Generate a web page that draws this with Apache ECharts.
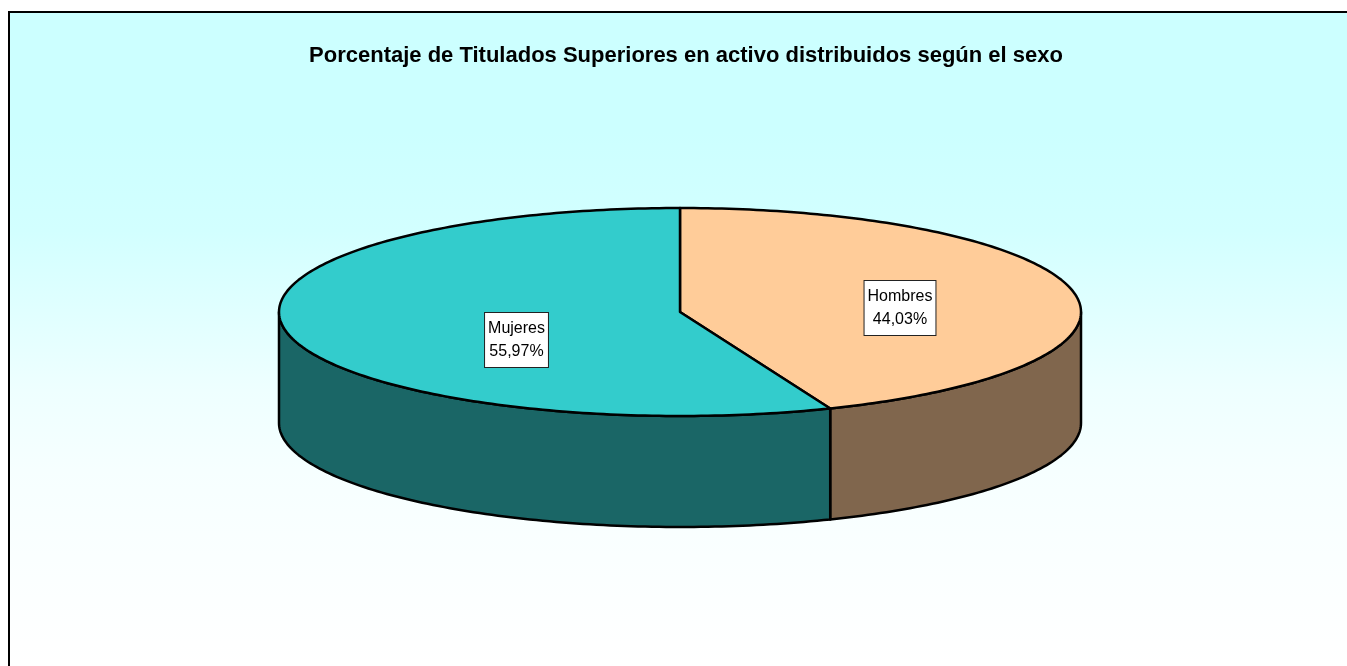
<!DOCTYPE html>
<html lang="es">

<head>
  <meta charset="UTF-8">
  <title>Titulados Superiores</title>
  <style>
    * {
      margin: 0;
      padding: 0;
    }

    body {
      background-color: #ffffff;
    }

    #chart {
      width: 1347px;
      height: 666px;
    }
  </style>
</head>

<body>
  <div id="chart"></div>

  <script src="https://cdn.jsdelivr.net/npm/echarts@6/dist/echarts.min.js"></script>
  <script>
    const categories = ['Hombres', 'Mujeres'];
    const percentages = [44.03, 55.97];
    const topColors = ['#FFCC99', '#33CCCC'];
    const sideColors = ['#80664D', '#1A6666'];
    const chartTitle = 'Porcentaje de Titulados Superiores en activo distribuidos según el sexo';

    // geometry of the flattened pie
    const cx = 680, cy = 312, rx = 401, ry = 104, depth = 111;
    // label centres, placed by hand like the original
    const labelOffsets = [[220, -4], [-163.5, 28]];

    const total = percentages.reduce((a, b) => a + b, 0);

    // angle 0 = top of the ellipse, going clockwise
    function rimPoint(deg, dy) {
      const r = deg * Math.PI / 180;
      return [cx + rx * Math.sin(r), cy - ry * Math.cos(r) + (dy || 0)];
    }

    function arcPoints(from, to, dy) {
      const pts = [];
      const n = Math.max(2, Math.ceil(Math.abs(to - from)));
      for (let i = 0; i <= n; i++) {
        pts.push(rimPoint(from + (to - from) * i / n, dy));
      }
      return pts;
    }

    // the original snaps slice edges down to whole degrees
    function sliceEdge(index) {
      let sum = 0;
      for (let i = 0; i < index; i++) sum += percentages[i];
      return index >= percentages.length ? 360 : Math.floor(sum / total * 360);
    }

    function renderSlice(params, api) {
      const i = params.dataIndex;
      const start = sliceEdge(i);
      const end = sliceEdge(i + 1);
      const children = [];
      const line = { stroke: '#000000', lineWidth: 2.5, lineJoin: 'round' };

      // only the part of the rim between 90 and 270 degrees faces the viewer
      const wallFrom = Math.max(start, 90);
      const wallTo = Math.min(end, 270);
      if (wallTo > wallFrom) {
        const wall = arcPoints(wallFrom, wallTo, 0).concat(arcPoints(wallTo, wallFrom, depth));
        children.push({
          type: 'polygon',
          shape: { points: wall },
          style: Object.assign({ fill: sideColors[i] }, line)
        });
      }

      const top = [[cx, cy]].concat(arcPoints(start, end, 0));
      children.push({
        type: 'polygon',
        shape: { points: top },
        style: Object.assign({ fill: topColors[i] }, line)
      });

      children.push({
        type: 'text',
        z2: 10,
        x: cx + labelOffsets[i][0],
        y: cy + labelOffsets[i][1],
        style: {
          text: categories[i] + '\n' + api.value(0).toFixed(2).replace('.', ',') + '%',
          font: '16px "Liberation Sans", Arial, sans-serif',
          fill: '#000000',
          align: 'center',
          verticalAlign: 'middle',
          lineHeight: 23,
          backgroundColor: '#ffffff',
          borderColor: '#222222',
          borderWidth: 1,
          padding: [4, 3]
        }
      });

      return { type: 'group', children: children };
    }

    // background fade, stops (y in pixels)
    const fadeY = [12, 130, 230, 305, 390, 470, 600, 666];
    const fadeColors = ['#CCFFFF', '#CCFFFF', '#D2FFFF', '#DFFFFF', '#EEFFFF', '#F6FFFF', '#FCFFFF', '#FFFFFF'];

    var myChart = echarts.init(document.getElementById('chart'));
    var option = {
      animation: false,
      backgroundColor: '#ffffff',
      title: {
        text: chartTitle,
        left: 681,
        top: 40,
        textAlign: 'center',
        textStyle: {
          fontFamily: '"Liberation Sans", Arial, sans-serif',
          fontSize: 22,
          fontWeight: 'bold',
          color: '#000000'
        }
      },
      graphic: [
        {
          type: 'rect',
          z: -10,
          silent: true,
          shape: { x: 9, y: 12, width: 1400, height: 700 },
          style: {
            stroke: '#000000',
            lineWidth: 2,
            fill: new echarts.graphic.LinearGradient(0, 12, 0, 666, fadeY.map(function (y, k) {
              return { offset: (y - 12) / (666 - 12), color: fadeColors[k] };
            }), true)
          }
        }
      ],
      series: [
        {
          type: 'custom',
          coordinateSystem: 'none',
          renderItem: renderSlice,
          data: percentages.map(function (v) { return [v]; })
        }
      ]
    };
    myChart.setOption(option);
  </script>
</body>

</html>
